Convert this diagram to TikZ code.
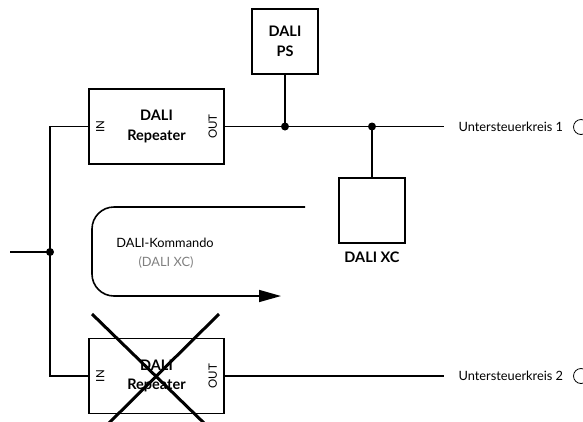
\documentclass[tikz,border=0pt]{standalone}
\usepackage{fontspec}
\setmainfont{Lato}
\usetikzlibrary{positioning,arrows.meta}

\tikzset{
  wire/.style={line width=1.6pt},
  unit/.style={draw,line width=1.6pt,minimum width=135pt,minimum height=75pt,
    align=center,font=\bfseries\fontsize{14.5}{19.5}\selectfont},
  smallunit/.style={unit,minimum width=66pt,minimum height=65pt},
  port/.style={rotate=90,inner sep=0pt,font=\fontsize{11.5}{13}\selectfont},
  dot/.style={circle,fill,inner sep=0pt,minimum size=8pt},
  tag/.style={font=\fontsize{12.8}{15}\selectfont},
}

\begin{document}
\begin{tikzpicture}[x=1pt,y=-1pt]
  \useasboundingbox (0,0) rectangle (583,421);

  % devices
  \node[unit] (rep1) at (156.5,126.5) {DALI\\Repeater};
  \node[unit] (rep2) at (156.5,376) {DALI\\Repeater};
  \node[smallunit] (ps) at (285,41.5) {DALI\\PS};
  \node[smallunit] (xc) at (372,210.5) {};
  \node[font=\bfseries\fontsize{14.5}{19}\selectfont, below=5pt of xc] (xclabel) {DALI XC};

  \foreach \rep in {rep1,rep2} {
    \node[port] at ([xshift=12pt]\rep.west) {IN};
    \node[port] at ([xshift=-12pt]\rep.east) {OUT};
  }

  % wiring
  \coordinate (src)  at (10,252);
  \coordinate (feed) at (50,252);
  \coordinate (j1)   at (ps.south |- rep1.east);
  \coordinate (j2)   at (xc.north |- rep1.east);
  \coordinate (end1) at (444,126.5);
  \coordinate (end2) at (444,376);

  \draw[wire] (rep1.west) -| (feed) |- (rep2.west);
  \draw[wire] (src) -- (feed);
  \draw[wire] (rep1.east) -- (end1);
  \draw[wire] (rep2.east) -- (end2);
  \draw[wire] (ps.south) -- (j1);
  \draw[wire] (j2) -- (xc.north);
  \foreach \j in {feed,j1,j2}
    \node[dot] at (\j) {};

  % sub circuits
  \node[tag, anchor=west] (sub1) at (455,126.5) {Untersteuerkreis 1};
  \node[tag, anchor=west] (sub2) at (455,376) {Untersteuerkreis 2};
  \draw[line width=0.8pt] (581,127) circle (7.5);
  \draw[line width=0.8pt] (581,376) circle (7.5);

  % command path
  \coordinate (cmdin)  at (305,207);
  \coordinate (cmdout) at (281,296);
  \draw[wire, rounded corners=22pt, -{Triangle[length=22pt,width=12pt]}]
    (cmdin) -- (92,207) -- (92,296) -- (cmdout);
  \node[tag] (cmd) at (165,243) {DALI-Kommando};
  \node[tag, text=gray] (cmdsub) at (166,262) {(DALI XC)};

  % failed repeater
  \draw[line width=3pt] (92,314) -- (205,424);
  \draw[line width=3pt] (219,314) -- (108,424);
\end{tikzpicture}
\end{document}
